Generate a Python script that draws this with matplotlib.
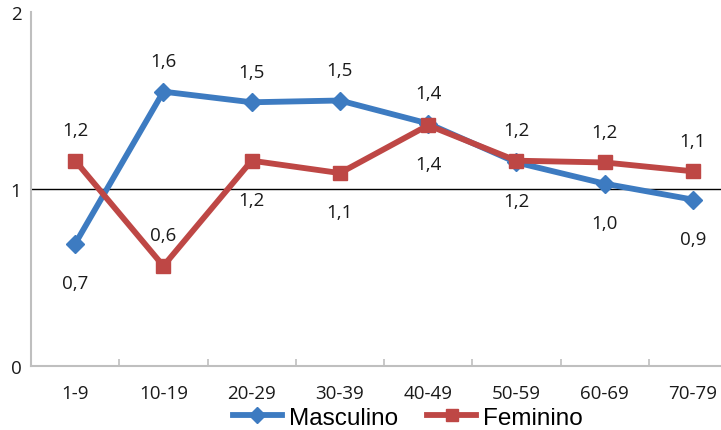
import matplotlib
matplotlib.use('Agg')
import matplotlib.pyplot as plt
import numpy as np

categories = ['1-9', '10-19', '20-29', '30-39', '40-49', '50-59', '60-69', '70-79']
masculino = [0.69, 1.55, 1.49, 1.50, 1.37, 1.15, 1.03, 0.94]
feminino = [1.16, 0.565, 1.16, 1.09, 1.36, 1.16, 1.15, 1.10]
masc_labels = ['0,7', '1,6', '1,5', '1,5', '1,4', '1,2', '1,0', '0,9']
fem_labels = ['1,2', '0,6', '1,2', '1,1', '1,4', '1,2', '1,2', '1,1']
# +1 label above the point, -1 below
masc_side = [-1, 1, 1, 1, 1, -1, -1, -1]
fem_side = [1, 1, -1, -1, -1, 1, 1, 1]

blue = '#3D7BC1'
red = '#BE4745'
txt_font = ['Open Sans', 'DejaVu Sans']

fig = plt.figure(figsize=(7.21, 4.31), dpi=100)
ax = fig.add_axes([31 / 721, 64 / 431, 706 / 721, 354 / 431])

x = np.arange(len(categories))
ax.axhline(1, color='black', lw=1.0, zorder=1)
ax.plot(x, masculino, color=blue, lw=4.2, marker='D', ms=9, zorder=3, label='Masculino')
ax.plot(x, feminino, color=red, lw=4.2, marker='s', ms=10, zorder=4, label='Feminino')

for vals, labs, sides in [(masculino, masc_labels, masc_side),
                          (feminino, fem_labels, fem_side)]:
    for xi, v, lab, s in zip(x, vals, labs, sides):
        ax.annotate(lab, (xi, v), xytext=(0, 22 if s > 0 else -28),
                    textcoords='offset points', ha='center', va='center',
                    fontsize=13.5, family=txt_font, color='#1a1a1a')

ax.set_xlim(-0.5, 7.5)
ax.set_ylim(0, 2)
ax.set_yticks([0, 1, 2])
ax.set_yticklabels(['0', '1', '2'], family=txt_font, fontsize=13.5)
ax.tick_params(axis='y', length=0, pad=7, labelcolor='#1a1a1a')
ax.set_xticks(x)
ax.set_xticklabels(categories, family=txt_font, fontsize=13.5)
ax.set_xticks(np.arange(0.5, 7.5, 1), minor=True)
ax.tick_params(axis='x', which='major', length=0, pad=13, labelcolor='#1a1a1a')
ax.tick_params(axis='x', which='minor', direction='in', length=5, color='#BFBFBF', width=1.2)

for side in ['top', 'right']:
    ax.spines[side].set_visible(False)
for side in ['left', 'bottom']:
    ax.spines[side].set_color('#BFBFBF')
    ax.spines[side].set_linewidth(1.5)

leg = fig.legend(loc='center', bbox_to_anchor=(408 / 721, 1 - 419 / 431), ncol=2,
                 frameon=False, prop={'family': ['Liberation Sans', 'DejaVu Sans'], 'size': 17.5},
                 handlelength=2.0, columnspacing=1.2, handletextpad=0.3, borderpad=0)
for h in leg.legend_handles:
    h.set_markersize(8)

fig.savefig('out.png', dpi=100)
